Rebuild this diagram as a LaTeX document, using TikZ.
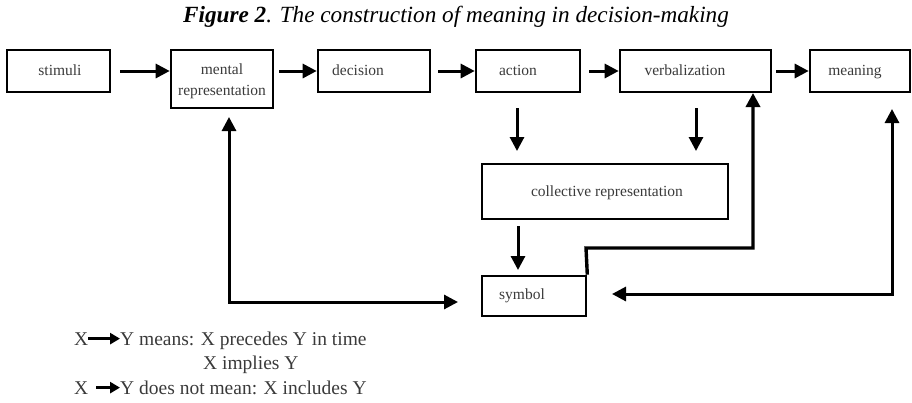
\documentclass[tikz,border=0pt]{standalone}
\usepackage{fontspec}
\setmainfont{Liberation Serif}
\usetikzlibrary{arrows.meta}
\definecolor{txtgray}{HTML}{3A3A3A}
\begin{document}
\begin{tikzpicture}[x=1pt,y=-1pt,
  box/.style={draw=black,line width=2.6pt,inner sep=0pt},
  lbl/.style={text=txtgray,font=\fontsize{15.5}{21}\selectfont,inner sep=0pt,align=center,anchor=base},
  leg/.style={text=txtgray,font=\fontsize{19.5}{23}\selectfont,inner sep=0pt,anchor=base west},
  arr/.style={line width=3pt,-{Triangle[length=14pt,width=14pt]}},
  dbl/.style={line width=3pt,{Triangle[length=14pt,width=14pt]}-{Triangle[length=14pt,width=14pt]}},
  legarr/.style={line width=3pt,-{Triangle[length=10pt,width=11pt]}}]
\useasboundingbox (0,0) rectangle (912,402);

% title
\node[font=\fontsize{23.2}{27}\selectfont,inner sep=0pt,anchor=base] (title) at (456,22)
  {\textbf{\textit{Figure 2}}\textit{. The construction of meaning in decision-making}};

% boxes
\node[box,minimum width=103pt,minimum height=42pt] (stim) at (58.5,71) {};
\node[box,minimum width=102pt,minimum height=58pt] (mental) at (222,79) {};
\node[box,minimum width=112pt,minimum height=42pt] (dec) at (374,71) {};
\node[box,minimum width=104pt,minimum height=42pt] (act) at (528,71) {};
\node[box,minimum width=151pt,minimum height=42pt] (verb) at (695.5,71) {};
\node[box,minimum width=100pt,minimum height=42pt] (mean) at (860,71) {};
\node[box,minimum width=246pt,minimum height=55pt] (coll) at (605,191.5) {};
\node[box,minimum width=104pt,minimum height=40pt] (sym) at (534,296) {};

% box texts
\node[lbl] (tstim) at (60,75) {stimuli};
\node[lbl] (tmental) at (222,95) {mental\\representation};
\node[lbl] (tdec) at (358,75) {decision};
\node[lbl] (tact) at (518,75) {action};
\node[lbl] (tverb) at (685,75) {verbalization};
\node[lbl] (tmean) at (855,75) {meaning};
\node[lbl] (tcoll) at (607,196) {collective representation};
\node[lbl] (tsym) at (522,299) {symbol};

% top row arrows
\draw[arr] ([xshift=9pt]stim.east) -- (stim.east -| mental.west);
\draw[arr] ([xshift=5pt]mental.east |- dec.west) -- (dec.west);
\draw[arr] ([xshift=7pt]dec.east) -- (act.west);
\draw[arr] ([xshift=8pt]act.east) -- (verb.west);
\draw[arr] ([xshift=4pt]verb.east) -- (mean.west);

% down arrows
\coordinate (a1) at (517,108);  \coordinate (a2) at (517,151);
\coordinate (v1) at (696,108);  \coordinate (v2) at (696,151);
\coordinate (c1) at (518,226);  \coordinate (c2) at (518,270);
\draw[arr] (a1) -- (a2);
\draw[arr] (v1) -- (v2);
\draw[arr] (c1) -- (c2);

% left loop
\coordinate (mentin) at (229,117);
\coordinate (lcorner) at (229,302);
\coordinate (symin) at (458,302);
\draw[dbl] (symin) -- (lcorner) -- (mentin);

% right loop
\coordinate (meanin) at (892,109);
\coordinate (rcorner) at (892,294);
\coordinate (symin2) at (612,294);
\draw[dbl] (symin2) -- (rcorner) -- (meanin);

% step line from symbol to verbalization
\coordinate (s1) at (586,248);
\coordinate (s2) at (753,248);
\draw[arr,line width=3.4pt,line join=miter] (sym.north east) -- (s1) -- (s2) -- (753,93);

% legend
\node[leg] (lx1) at (74,345) {X};
\node[leg] (ly1) at (120,345) {Y means: X precedes Y in time};
\node[leg] (l2) at (203,369) {X implies Y};
\node[leg] (lx3) at (74,394) {X};
\node[leg] (ly3) at (120,394) {Y does not mean: X includes Y};
\draw[legarr] (lx1.east) -- (lx1.east -| ly1.west);
\draw[legarr] ([xshift=8pt]lx3.east) -- (lx3.east -| ly3.west);
\end{tikzpicture}
\end{document}
